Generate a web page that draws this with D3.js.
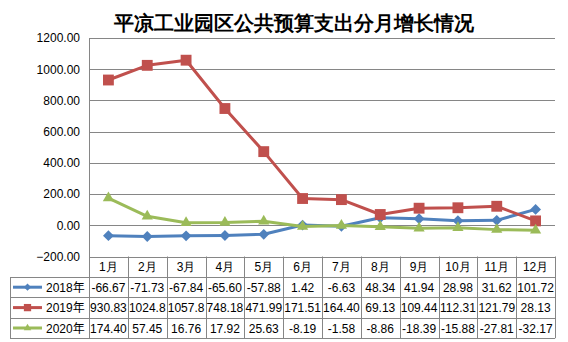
<!DOCTYPE html>
<html>
<head>
<meta charset="utf-8">
<script src="https://cdn.jsdelivr.net/npm/d3@7"></script>
<style>
  html, body { margin: 0; padding: 0; background: #fff; }
  svg { display: block; }
  text { font-family: "Liberation Sans", Arial, sans-serif; }
</style>
</head>
<body>
<svg id="chart" width="568" height="342"></svg>
<script>
// Monthly growth of public budget expenditure, Pingliang Industrial Park
const months = ["1月","2月","3月","4月","5月","6月","7月","8月","9月","10月","11月","12月"];
const seriesNames = ["2018年", "2019年", "2020年"];
const values2018 = [-66.67, -71.73, -67.84, -65.60, -57.88, 1.42, -6.63, 48.34, 41.94, 28.98, 31.62, 101.72];
const values2019 = [930.83, 1024.8, 1057.8, 748.18, 471.99, 171.51, 164.40, 69.13, 109.44, 112.31, 121.79, 28.13];
const values2020 = [174.40, 57.45, 16.76, 17.92, 25.63, -8.19, -1.58, -8.86, -18.39, -15.88, -27.81, -32.17];
const yTicks = [-200, 0, 200, 400, 600, 800, 1000, 1200];

const series = [
  { name: seriesNames[0], values: values2018, color: "#4F81BD", marker: d3.symbolDiamond2, size: 75 },
  { name: seriesNames[1], values: values2019, color: "#C0504D", marker: d3.symbolSquare2, size: 150 },
  { name: seriesNames[2], values: values2020, color: "#9BBB59", marker: d3.symbolTriangle2, size: 90 }
];

const svg = d3.select("#chart");
const plotLeft = 89, plotRight = 555, plotTop = 38, plotBottom = 256.5;
const tableLeft = 10;
const rowH = 20.4;
const headerBottom = 277;

const x = d3.scaleBand().domain(months).range([plotLeft, plotRight]);
const y = d3.scaleLinear().domain([-200, 1200]).range([plotBottom, plotTop]);
const grid = "#868686";

// title
svg.append("text")
  .attr("x", 294).attr("y", 30)
  .attr("text-anchor", "middle")
  .attr("font-family", "'Noto Sans CJK SC', sans-serif")
  .attr("font-weight", "bold")
  .attr("font-size", 19.5)
  .attr("fill", "#000")
  .text("平凉工业园区公共预算支出分月增长情况");

// horizontal gridlines
svg.append("g").selectAll("line").data(yTicks).join("line")
  .attr("x1", plotLeft).attr("x2", plotRight)
  .attr("y1", d => Math.round(y(d)) + 0.5).attr("y2", d => Math.round(y(d)) + 0.5)
  .attr("stroke", grid).attr("stroke-width", 1);

// y axis labels
const yAxis = d3.axisLeft(y).tickValues(yTicks).tickFormat(d3.format(".2f")).tickSize(0).tickPadding(9);
const yg = svg.append("g").attr("transform", `translate(${plotLeft},0)`).call(yAxis);
yg.select(".domain").remove();
yg.selectAll("text").attr("font-size", 12).attr("fill", "#000")
  .attr("font-family", "'Liberation Sans', Arial, sans-serif");

// value axis line
svg.append("line")
  .attr("x1", plotLeft + 0.5).attr("x2", plotLeft + 0.5)
  .attr("y1", plotTop).attr("y2", headerBottom + rowH * 3)
  .attr("stroke", grid);

// data table: vertical separators
const colEdges = months.map(m => x(m)).concat([plotRight]);
svg.append("g").selectAll("line").data(colEdges.slice(1)).join("line")
  .attr("x1", d => Math.round(d) + 0.5).attr("x2", d => Math.round(d) + 0.5)
  .attr("y1", plotBottom).attr("y2", headerBottom + rowH * 3)
  .attr("stroke", grid);

// data table: horizontal separators
const rowLines = [0, 1, 2, 3].map(i => headerBottom + i * rowH);
svg.append("g").selectAll("line").data(rowLines).join("line")
  .attr("x1", tableLeft).attr("x2", plotRight)
  .attr("y1", d => Math.round(d) + 0.5).attr("y2", d => Math.round(d) + 0.5)
  .attr("stroke", grid);
svg.append("line")
  .attr("x1", tableLeft + 0.5).attr("x2", tableLeft + 0.5)
  .attr("y1", headerBottom).attr("y2", headerBottom + rowH * 3)
  .attr("stroke", grid);

// header row
svg.append("g").selectAll("text").data(months).join("text")
  .attr("x", d => x(d) + x.bandwidth() / 2)
  .attr("y", (plotBottom + headerBottom) / 2 + 4.5)
  .attr("text-anchor", "middle")
  .attr("font-size", 12)
  .attr("font-family", "'Noto Sans CJK SC', sans-serif")
  .attr("fill", "#000")
  .text(d => d);

// cells show two decimals, one when the number has four integer digits
const fmtCell = v => Math.abs(v) >= 1000 ? v.toFixed(1) : v.toFixed(2);

series.forEach((s, si) => {
  const cy = headerBottom + rowH * si + rowH / 2;
  // legend key
  const key = svg.append("g");
  key.append("line")
    .attr("x1", 13).attr("x2", 42).attr("y1", cy).attr("y2", cy)
    .attr("stroke", s.color).attr("stroke-width", 3);
  key.append("path")
    .attr("d", d3.symbol().type(s.marker).size(s.size * 0.45)())
    .attr("transform", `translate(27.5,${cy})`)
    .attr("fill", s.color);
  const t = key.append("text")
    .attr("x", 46).attr("y", cy + 4.5)
    .attr("font-size", 12)
    .attr("fill", "#000");
  t.append("tspan").text(s.name.replace("年", ""));
  t.append("tspan")
    .attr("font-family", "'Noto Sans CJK SC', sans-serif")
    .text("年");
  // values
  svg.append("g").selectAll("text").data(s.values).join("text")
    .attr("x", (d, i) => x(months[i]) + x.bandwidth() / 2)
    .attr("y", cy + 4.5)
    .attr("text-anchor", "middle")
    .attr("font-size", 12)
    .attr("fill", "#000")
    .text(d => fmtCell(d));
});

// lines and markers
const line = d3.line()
  .x((d, i) => x(months[i]) + x.bandwidth() / 2)
  .y(d => y(d));

series.forEach(s => {
  svg.append("path")
    .datum(s.values)
    .attr("d", line)
    .attr("fill", "none")
    .attr("stroke", s.color)
    .attr("stroke-width", 3)
    .attr("stroke-linejoin", "round");
  svg.append("g").selectAll("path").data(s.values).join("path")
    .attr("d", d3.symbol().type(s.marker).size(s.size)())
    .attr("transform", (d, i) => `translate(${x(months[i]) + x.bandwidth() / 2},${y(d)})`)
    .attr("fill", s.color);
});
</script>
</body>
</html>
